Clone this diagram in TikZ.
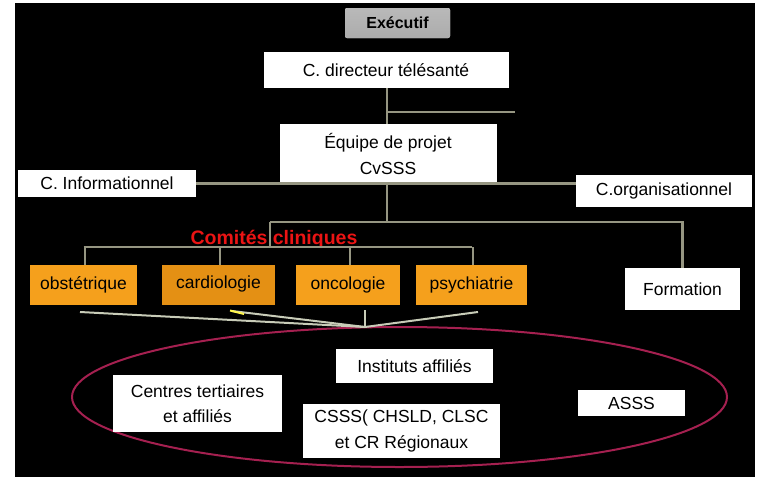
\documentclass[tikz,border=0pt]{standalone}
\usepackage{fontspec}
\setmainfont{Liberation Sans}

\definecolor{clinorange}{RGB}{245,160,28}
\definecolor{cardorange}{RGB}{228,144,20}
\definecolor{linkgrey}{RGB}{150,150,130}
\definecolor{fanlight}{RGB}{200,204,184}
\definecolor{ringred}{RGB}{165,32,80}
\definecolor{clinred}{RGB}{235,20,20}

\tikzset{
  box/.style={fill=white, inner sep=0pt, align=center, text=black,
    font=\fontsize{17.5}{25.5}\selectfont},
  clinbox/.style={box, fill=clinorange, minimum width=#1, minimum height=40},
  link/.style={draw=linkgrey, line width=2.2pt},
  fan/.style={draw=fanlight, line width=2pt},
}

\begin{document}
\begin{tikzpicture}[x=1pt,y=-1pt]
\useasboundingbox (0,0) rectangle (758,477);
% Background
\fill[white] (0,0) rectangle (758,477);
\fill[black] (15,3) rectangle (755,477);

% Top of the chart
\node[box, minimum width=105, minimum height=30, rounded corners=2pt,
  top color=gray!55, middle color=white, bottom color=gray!65,
  font=\fontsize{16}{20}\selectfont\bfseries] (exec) at (397.5,23) {Exécutif};
\node[box, minimum width=245, minimum height=36] (dir) at (386,70) {C. directeur télésanté};
\node[box, minimum width=217, minimum height=60] (equipe) at (388,154) {Équipe de projet\\CvSSS};
\node[box, minimum width=178, minimum height=27] (info) at (107,183.5) {C. Informationnel};
\node[box, minimum width=176, minimum height=32] (orga) at (664,191) {C.organisationnel};

% Connectors below the top
\coordinate (stub) at (515,112);
\coordinate (split) at (387,222);
\coordinate (clin) at (270,222);
\coordinate (bar) at (270,247);
\draw[link] (387,88) -- (387,124);
\draw[link] (387,112) -- (stub);
\draw[link] (info.east) -- (info.east -| orga.west);
\draw[link] (387,184) -- (split);

% Clinical committees
\node[box, fill=none, text=clinred, font=\fontsize{19.5}{22}\selectfont\bfseries] (comites) at (274,239) {Comités cliniques};
\node[clinbox=107] (obst) at (83.5,285) {obstétrique};
\node[clinbox=113, fill=cardorange, text depth=6pt] (cardio) at (218.5,285) {cardiologie};
\node[clinbox=104] (onco) at (348,285) {oncologie};
\node[clinbox=111] (psy) at (471.5,285) {psychiatrie};
\node[box, minimum width=115, minimum height=42] (form) at (682.5,289) {Formation};

\draw[link] (clin) -- (split -| form.north) -- (form.north);
\draw[link] (clin) -- (bar);
\draw[link] (obst.north |- bar) -- (psy.north |- bar);
\foreach \n/\x in {obst/85, cardio/220, onco/350, psy/473}
  \draw[link] (\x,247) -- (\x,265);

% Partners ring
\draw[ringred, line width=2pt] (399.5,397) ellipse [x radius=327.5, y radius=70];
\coordinate (meet) at (365,327);
\draw[fan] (80,312) -- (meet);
\draw[fan] (232,311) -- (meet);
\draw[draw=yellow!70!white, line width=2pt] (230,310.5) -- (244,314);
\draw[fan] (365,310) -- (meet);
\draw[fan] (478,312) -- (meet);

\node[box, minimum width=157, minimum height=34] (inst) at (414.5,366) {Instituts affiliés};
\node[box, minimum width=169, minimum height=57] (centres) at (197.5,403.5) {Centres tertiaires\\et affiliés};
\node[box, minimum width=197, minimum height=54] (csss) at (401.5,431) {CSSS( CHSLD, CLSC\\et CR Régionaux};
\node[box, minimum width=107, minimum height=26] (asss) at (631.5,403) {ASSS};
\end{tikzpicture}
\end{document}
